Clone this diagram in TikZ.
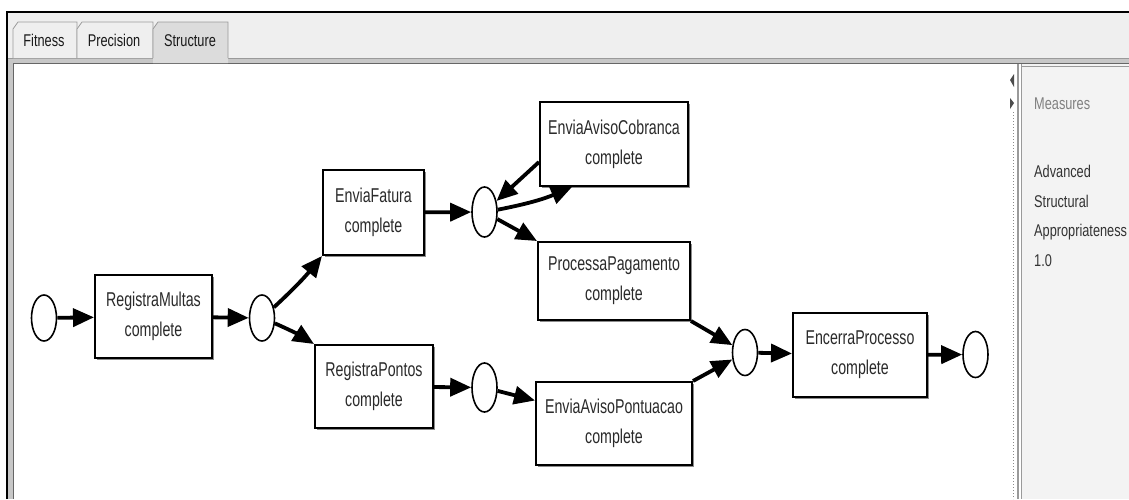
\documentclass[tikz,border=0pt]{standalone}
\usepackage{fontspec}
\setmainfont{Liberation Sans}
\newfontfamily\narrowfont{Liberation Sans}[FakeStretch=0.71]
\newfontfamily\tabfont{Liberation Sans}[FakeStretch=0.75]
\usetikzlibrary{arrows.meta,shapes.geometric,calc,shadows}
\definecolor{barbg}{HTML}{EFEFEF}
\definecolor{tabsel}{HTML}{DCDCDC}
\definecolor{framegray}{HTML}{9A9A9A}
\definecolor{panelbg}{HTML}{F3F3F3}
\definecolor{txtdark}{HTML}{2A2A2A}
\begin{document}
\begin{tikzpicture}[x=1pt,y=-1pt,
  trans/.style={draw=black, line width=2pt, fill=white, rectangle, inner sep=0pt, align=center,
    font=\narrowfont\fontsize{20}{30}\selectfont, text=txtdark,
    drop shadow={shadow xshift=1.5pt, shadow yshift=-1.5pt, fill=black!45, opacity=1}},
  place/.style={draw=black, line width=1.6pt, fill=white, ellipse, minimum width=25pt, minimum height=46pt, inner sep=0pt},
  flow/.style={line width=3.8pt, -{Triangle[length=21pt,width=18pt]}},
  tabtxt/.style={font=\tabfont\fontsize{17}{20}\selectfont, text=black!90, anchor=base, inner sep=0pt},
  meas/.style={font=\tabfont\fontsize{17}{20}\selectfont, anchor=base west, inner sep=0pt, text=black!80},
  tabshape/.style={draw=framegray, line width=0.8pt}
]
\useasboundingbox (0,0) rectangle (1129,499);
\fill[white] (0,0) rectangle (1129,499);
% tab bar
\fill[barbg] (7,12) rectangle (1129,58);
% panel frame bands
\fill[framegray!55] (8,58) rectangle (1129,64);
\fill[framegray!55] (8,58) rectangle (14,499);
\draw[framegray, line width=1pt] (8,58.5) -- (1129,58.5);
\draw[black!60, line width=1pt] (13.5,499) -- (13.5,63.5) -- (1129,63.5);
\fill[white] (14,64) rectangle (1012,499);
% right panel
\fill[panelbg] (1022,64) rectangle (1129,499);
\draw[framegray, line width=1.2pt] (1018,64) -- (1018,499);
\draw[framegray, line width=1pt] (1021.5,64) -- (1021.5,499);
\draw[framegray, line width=0.8pt] (1022,66) -- (1129,66);
\draw[black!45, dotted, line width=1pt] (1013,112) -- (1013,499);
\fill[black!70] (1010,80) -- (1014,74) -- (1014,87) -- cycle;
\fill[black!70] (1014,103) -- (1010,98) -- (1010,109) -- cycle;
% outer frame
\draw[black, line width=1.5pt] (7,499) -- (7,12) -- (1129,12);
% tabs
\draw[tabshape, fill=barbg] (13,58) -- (13,29) -- (18,22) -- (77,22) -- (77,58);
\draw[tabshape, fill=barbg] (77,58) -- (77,29) -- (82,22) -- (153,22) -- (153,58);
\fill[tabsel] (153,29) -- (158,22) -- (228,22) -- (228,63) -- (153,63) -- cycle;
\draw[tabshape] (153,58) -- (153,29) -- (158,22) -- (228,22) -- (228,58);
\node[tabtxt] (tfit) at (44,46) {Fitness};
\node[tabtxt] (tpre) at (114,46) {Precision};
\node[tabtxt] (tstr) at (190,46) {Structure};
% measures panel
\node[meas, text=black!50] (m1) at (1034,109) {Measures};
\node[meas] (m2) at (1034,177) {Advanced};
\node[meas] (m3) at (1034,207) {Structural};
\node[meas] (m4) at (1034,236) {Appropriateness};
\node[meas] (m5) at (1034,266) {1.0};
% net
\node[place] (p0) at (44,318) {};
\node[trans, minimum width=117pt, minimum height=83pt] (rm) at (153.5,316.5) {RegistraMultas\\complete};
\node[place] (p1) at (262,318) {};
\node[trans, minimum width=101pt, minimum height=85pt] (ef) at (373.5,212.5) {EnviaFatura\\complete};
\node[place, minimum height=50pt] (p2) at (484.5,212) {};
\node[trans, minimum width=148pt, minimum height=84pt] (eac) at (614,144) {EnviaAvisoCobranca\\complete};
\node[trans, minimum width=152pt, minimum height=78pt] (pp) at (614,281) {ProcessaPagamento\\complete};
\node[trans, minimum width=118pt, minimum height=83pt] (rp) at (374,386.5) {RegistraPontos\\complete};
\node[place, minimum height=49pt] (p3) at (484.5,387.5) {};
\node[trans, minimum width=156pt, minimum height=83pt] (eap) at (614,423.5) {EnviaAvisoPontuacao\\complete};
\node[place] (p4) at (745,352.5) {};
\node[trans, minimum width=134pt, minimum height=84pt] (ep) at (860,355) {EncerraProcesso\\complete};
\node[place] (p5) at (975.5,354.5) {};
% arcs
\draw[flow] (p0) -- (rm);
\draw[flow] (rm) -- (p1);
\draw[flow] (p1) to[bend right=4] (ef.south west);
\draw[flow] (p1) to[bend left=4] (rp.north west);
\draw[flow] (ef) -- (p2);
\draw[flow] (p2) to[bend right=6] ($(eac.south west)!0.22!(eac.south east)$);
\draw[flow] ($(eac.west)+(0,18)$) -- (p2);
\draw[flow] (p2) -- (pp.north west);
\draw[flow] (rp) -- (p3);
\draw[flow] (p3) -- ($(eap.west)+(0,-23)$);
\draw[flow] (pp.south east) -- (p4);
\draw[flow] (eap.north east) -- (p4);
\draw[flow] (p4) -- (ep);
\draw[flow] (ep) -- (p5);
\end{tikzpicture}
\end{document}
